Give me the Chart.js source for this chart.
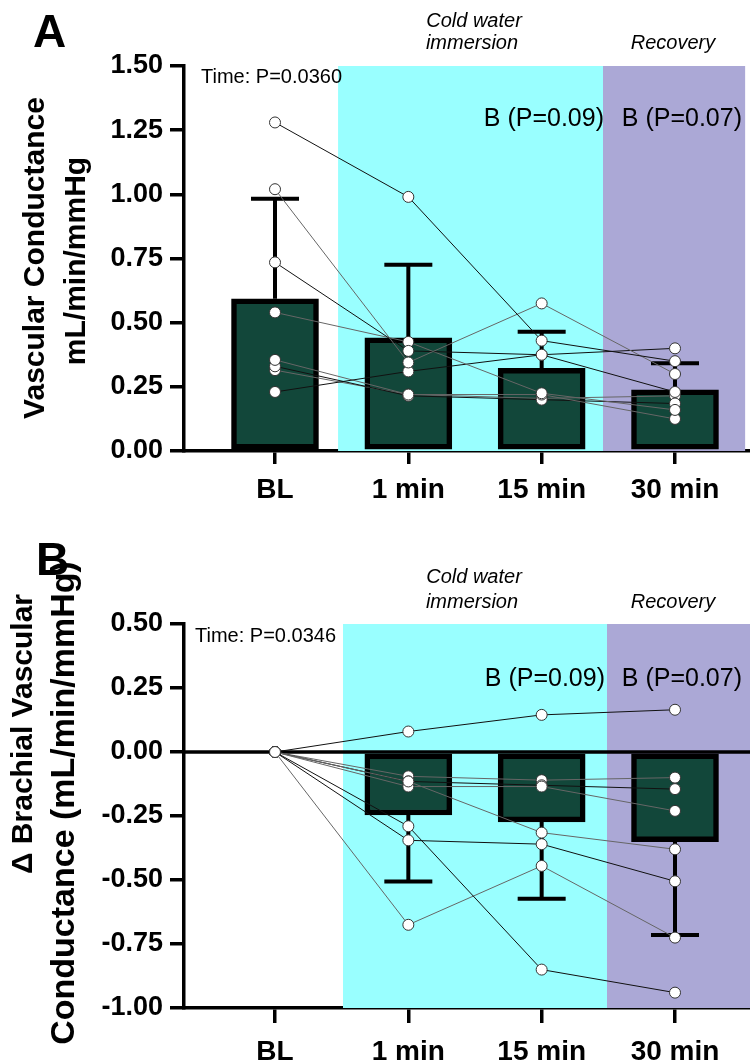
<!DOCTYPE html>
<html>
<head>
<meta charset="utf-8">
<script src="https://cdn.jsdelivr.net/npm/chart.js@4.4.1/dist/chart.umd.min.js"></script>
<style>
  html, body { margin: 0; padding: 0; background: #fff; }
  canvas { display: block; }
</style>
</head>
<body>
<canvas id="chartA" width="750" height="520"></canvas>
<canvas id="chartB" width="750" height="543"></canvas>
<script>
Chart.defaults.font.family = "'Liberation Sans', Arial, Helvetica, sans-serif";
Chart.defaults.color = '#000';

// time points (x positions 0..3)
const timepoints = ['BL', '1 min', '15 min', '30 min'];
const timeIndex = [0, 1, 2, 3];

// A: vascular conductance, group mean and SD
const meanA = [0.593, 0.441, 0.322, 0.238];
const sdA = [0.39, 0.285, 0.143, 0.104];
// A: individual subjects
const subjectsA = [
  [1.28, 0.99, 0.43, 0.35],
  [1.02, 0.345, 0.575, 0.30],
  [0.735, 0.39, 0.375, 0.23],
  [0.54, 0.425, 0.225, 0.16],
  [0.23, 0.31, 0.375, 0.40],
  [0.355, 0.22, 0.22, 0.125],
  [0.33, 0.215, 0.20, 0.185],
  [0.315, 0.22, 0.205, 0.215]
];

// B: change from baseline, group mean and SD
const meanB = [null, -0.246, -0.273, -0.35];
const sdB = [null, 0.26, 0.30, 0.365];
const subjectsB = [
  [0, -0.29, -0.85, -0.94],
  [0, -0.675, -0.445, -0.725],
  [0, -0.345, -0.36, -0.505],
  [0, -0.115, -0.315, -0.38],
  [0, 0.08, 0.145, 0.165],
  [0, -0.135, -0.135, -0.23],
  [0, -0.115, -0.13, -0.145],
  [0, -0.095, -0.11, -0.10]
];

const BAR_FILL = '#12473a';
const CYAN = '#99ffff';
const LILAC = '#aba8d6';
const F = "'Liberation Sans', Arial, sans-serif";

// background bands, zero line, SD whiskers, axis titles and annotation text
const panelDecor = {
  id: 'panelDecor',
  beforeDatasetsDraw(chart, args, opts) {
    const {ctx, chartArea, scales: {x, y}} = chart;
    ctx.save();
    opts.bands.forEach(b => {
      const x0 = x.getPixelForValue(b.from);
      const x1 = x.getPixelForValue(b.to);
      ctx.fillStyle = b.color;
      ctx.fillRect(x0, chartArea.top, x1 - x0, chartArea.bottom - chartArea.top);
    });
    if (opts.zeroLine) {
      const y0 = y.getPixelForValue(0);
      ctx.strokeStyle = '#000';
      ctx.lineWidth = 3.5;
      ctx.beginPath();
      ctx.moveTo(chartArea.left, y0);
      ctx.lineTo(chartArea.right, y0);
      ctx.stroke();
    }
    ctx.restore();
  },
  afterDatasetDraw(chart, args, opts) {
    if (args.index !== 0) return;
    const {ctx, scales: {x, y}} = chart;
    ctx.save();
    ctx.strokeStyle = '#000';
    ctx.lineWidth = 4;
    opts.means.forEach((m, i) => {
      if (m === null) return;
      const px = x.getPixelForValue(timeIndex[i]);
      const end = m + opts.sign * opts.sd[i];
      const py0 = y.getPixelForValue(m);
      const py1 = y.getPixelForValue(end);
      ctx.beginPath();
      ctx.moveTo(px, py0);
      ctx.lineTo(px, py1);
      ctx.moveTo(px - 24, py1);
      ctx.lineTo(px + 24, py1);
      ctx.stroke();
    });
    ctx.restore();
  },
  afterDraw(chart, args, opts) {
    const {ctx} = chart;
    ctx.save();
    ctx.fillStyle = '#000';
    opts.texts.forEach(t => {
      ctx.font = t.font;
      ctx.textAlign = t.align || 'left';
      ctx.textBaseline = 'alphabetic';
      ctx.fillText(t.text, t.x, t.y);
    });
    // rotated y-axis title lines
    opts.yTitle.forEach(t => {
      ctx.save();
      ctx.translate(t.x, t.y);
      ctx.rotate(-Math.PI / 2);
      ctx.font = `bold ${t.size}px ${F}`;
      ctx.textAlign = 'center';
      ctx.textBaseline = 'middle';
      ctx.fillText(t.text, 0, 0);
      ctx.restore();
    });
    ctx.restore();
  }
};

function subjectSets(subjects) {
  return subjects.map((s, k) => ({
    type: 'line',
    data: timeIndex.map((t, i) => ({x: t, y: s[i]})),
    borderColor: k % 2 ? '#666' : '#111',
    borderWidth: 1,
    pointRadius: 5.5,
    pointBackgroundColor: '#fff',
    pointBorderColor: '#333',
    pointBorderWidth: 1,
    order: 1
  }));
}

function buildChart(id, cfg) {
  return new Chart(document.getElementById(id), {
    type: 'bar',
    data: {
      datasets: [{
        type: 'bar',
        data: timeIndex.map((t, i) => ({x: t, y: cfg.means[i]})),
        backgroundColor: BAR_FILL,
        borderColor: '#000',
        borderWidth: 5.5,
        borderSkipped: false,
        barThickness: 87,
        order: 2
      }].concat(subjectSets(cfg.subjects))
    },
    options: {
      responsive: false,
      animation: false,
      devicePixelRatio: 1,
      layout: {autoPadding: false, padding: {top: cfg.top, left: 0, right: 0, bottom: 0}},
      plugins: {
        legend: {display: false},
        tooltip: {enabled: false},
        panelDecor: {
          bands: cfg.bands,
          zeroLine: cfg.zeroLine,
          means: cfg.means,
          sd: cfg.sd,
          sign: cfg.sign,
          texts: cfg.texts,
          yTitle: cfg.yTitle
        }
      },
      scales: {
        x: {
          type: 'linear',
          min: -0.6825,
          max: 3.5625,
          offset: false,
          afterBuildTicks(scale) { scale.ticks = timeIndex.map(v => ({value: v})); },
          afterFit(scale) { scale.height = cfg.xHeight; },
          border: {color: '#000', width: 3.5},
          grid: {drawOnChartArea: false, offset: false, color: '#000', lineWidth: 3.5, tickLength: cfg.xTick},
          ticks: {
            autoSkip: false,
            maxRotation: 0,
            padding: cfg.xPad,
            color: '#000',
            font: {size: 28, weight: 'bold'},
            callback: v => timepoints[v] ?? ''
          }
        },
        y: {
          min: cfg.yMin,
          max: cfg.yMax,
          afterFit(scale) { scale.width = 184; },
          border: {color: '#000', width: 3.5},
          grid: {drawOnChartArea: false, color: '#000', lineWidth: 3.5, tickLength: 14},
          ticks: {
            stepSize: 0.25,
            padding: 7,
            color: '#000',
            font: {size: 27, weight: 'bold'},
            callback: v => v.toFixed(2)
          }
        }
      }
    },
    plugins: [panelDecor]
  });
}

buildChart('chartA', {
  means: meanA, sd: sdA, sign: 1, subjects: subjectsA,
  yMin: 0, yMax: 1.5, top: 66, xHeight: 69, xTick: 13, xPad: 9,
  yTitle: [
    {text: 'Vascular Conductance', x: 36, y: 258, size: 30},
    {text: 'mL/min/mmHg', x: 77, y: 261, size: 30}
  ],
  zeroLine: false,
  bands: [{from: 0.473, to: 2.46, color: CYAN}, {from: 2.46, to: 3.526, color: LILAC}],
  texts: [
    {text: 'A', x: 33, y: 47, font: `bold 46px ${F}`},
    {text: 'Time: P=0.0360', x: 201, y: 83, font: `20px ${F}`},
    {text: 'Cold water', x: 474, y: 27, font: `italic 20px ${F}`, align: 'center'},
    {text: 'immersion', x: 472, y: 49, font: `italic 20px ${F}`, align: 'center'},
    {text: 'Recovery', x: 673, y: 49, font: `italic 20px ${F}`, align: 'center'},
    {text: 'B (P=0.09)', x: 604, y: 126, font: `25px ${F}`, align: 'right'},
    {text: 'B (P=0.07)', x: 742, y: 126, font: `25px ${F}`, align: 'right'}
  ]
});

buildChart('chartB', {
  means: meanB, sd: sdB, sign: -1, subjects: subjectsB,
  yMin: -1, yMax: 0.5, top: 104, xHeight: 55, xTick: 15, xPad: 12,
  yTitle: [
    {text: '\u0394 Brachial Vascular', x: 24, y: 214, size: 30},
    {text: 'Conductance (mL/min/mmHg)', x: 65, y: 283, size: 34}
  ],
  zeroLine: true,
  bands: [{from: 0.51, to: 2.49, color: CYAN}, {from: 2.49, to: 3.5625, color: LILAC}],
  texts: [
    {text: 'B', x: 36, y: 55, font: `bold 46px ${F}`},
    {text: 'Time: P=0.0346', x: 195, y: 122, font: `20px ${F}`},
    {text: 'Cold water', x: 474, y: 63, font: `italic 20px ${F}`, align: 'center'},
    {text: 'immersion', x: 472, y: 88, font: `italic 20px ${F}`, align: 'center'},
    {text: 'Recovery', x: 673, y: 88, font: `italic 20px ${F}`, align: 'center'},
    {text: 'B (P=0.09)', x: 605, y: 166, font: `25px ${F}`, align: 'right'},
    {text: 'B (P=0.07)', x: 742, y: 166, font: `25px ${F}`, align: 'right'}
  ]
});
</script>
</body>
</html>
